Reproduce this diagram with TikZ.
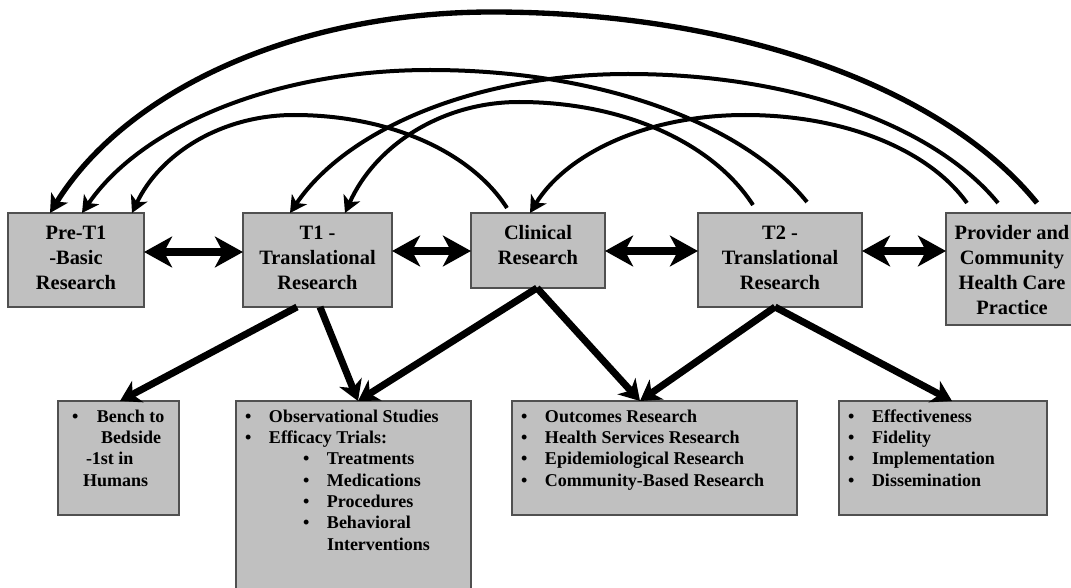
\documentclass[tikz,border=0pt]{standalone}
\usepackage{fontspec}
\setmainfont{Liberation Serif}
\usetikzlibrary{arrows.meta,calc}
\definecolor{boxfill}{HTML}{C0C0C0}
\definecolor{boxline}{HTML}{505050}
\newcommand\topbox[3]{\parbox[c][#2][t]{#1}{\centering\fontsize{15.3}{18.75}\selectfont\bfseries\rule{0pt}{19.5pt}#3}}
\newcommand\botbox[3]{\parbox[c][#2][t]{#1}{\raggedright\fontsize{13.5}{16}\selectfont\bfseries\rule{0pt}{15.75pt}#3}}
\newcommand\bul[1]{\hspace*{6.75pt}\makebox[18pt][l]{\textbullet}#1}
\newcommand\subbul[1]{\hspace*{50.25pt}\makebox[18pt][l]{\textbullet}#1}
\begin{document}
\begin{tikzpicture}[x=0.75pt,y=-0.75pt,
  box/.style={draw=boxline,fill=boxfill,line width=1pt,inner sep=0pt,outer sep=0pt,anchor=north west},
  dblarrow/.style={line width=6pt,{Stealth[length=21pt,width=23pt,inset=6pt]}-{Stealth[length=21pt,width=23pt,inset=6pt]}},
  downarrow/.style={line width=5.25pt,-{Stealth[length=15pt,width=18pt,inset=4.5pt]}},
  arcarrow/.style={line width=3pt,-{Stealth[length=12.5pt,width=13.5pt,inset=3.5pt]}},
  arcthick/.style={line width=4pt,-{Stealth[length=13.5pt,width=14.5pt,inset=3.5pt]}}]
\useasboundingbox (0,0) rectangle (1071,588);
\clip (0,0) rectangle (1071,588);

% top row
\node[box] (pre) at (8,213) {\topbox{102pt}{70.5pt}{Pre-T1\\-Basic\\Research}};
\node[box] (t1) at (243,213) {\topbox{111.75pt}{70.5pt}{T1 -\\Translational\\Research}};
\node[box] (clin) at (471,213) {\topbox{100.5pt}{56.25pt}{Clinical\\Research}};
\node[box] (t2) at (698,213) {\topbox{123pt}{70.5pt}{T2 -\\Translational\\Research}};
\node[box] (prov) at (946,213) {\topbox{99pt}{84pt}{Provider and\\Community\\Health Care\\Practice}};

% bottom row
\node[box] (bench) at (58,401) {\botbox{90.75pt}{85.5pt}{\hspace*{10.5pt}\makebox[18.75pt][l]{\textbullet}Bench to\\\hspace*{32.25pt}Bedside\\\hspace*{21pt}-1st in\\\hspace*{18.75pt}Humans}};
\node[box] (obs) at (236,401) {\botbox{176.25pt}{149.25pt}{\bul{Observational Studies}\\\bul{Efficacy Trials:}\\\subbul{Treatments}\\\subbul{Medications}\\\subbul{Procedures}\\\subbul{Behavioral}\\\hspace*{68.25pt}Interventions}};
\node[box] (out) at (512,401) {\botbox{213.75pt}{85.5pt}{\bul{Outcomes Research}\\\bul{Health Services Research}\\\bul{Epidemiological Research}\\\bul{Community-Based Research}}};
\node[box] (eff) at (839,401) {\botbox{156pt}{85.5pt}{\bul{Effectiveness}\\\bul{Fidelity}\\\bul{Implementation}\\\bul{Dissemination}}};

% horizontal double arrows
\draw[dblarrow] ($(pre.north east)+(0,39)$) -- ($(t1.north west)+(0,39)$);
\draw[dblarrow] ($(t1.north east)+(0,38)$) -- ($(clin.north west)+(0,38)$);
\draw[dblarrow] ($(clin.north east)+(0,38)$) -- ($(t2.north west)+(0,38)$);
\draw[dblarrow] ($(t2.north east)+(0,38)$) -- ($(prov.north west)+(0,38)$);

% downward arrows
\draw[downarrow] ($(t1.south west)+(54,0)$) -- ($(bench.north west)+(62,0)$);
\draw[downarrow] ($(t1.south west)+(77,0)$) -- ($(obs.north west)+(122,0)$);
\draw[downarrow] ($(clin.south west)+(66,0)$) -- ($(obs.north west)+(122,0)$);
\draw[downarrow] ($(clin.south west)+(66,0)$) -- ($(out.north west)+(128,0)$);
\draw[downarrow] ($(t2.south west)+(77,0)$) -- ($(out.north west)+(128,0)$);
\draw[downarrow] ($(t2.south west)+(77,0)$) -- ($(eff.north west)+(113,0)$);

% feedback arcs
\draw[arcthick] ($(prov.north west)+(91,-10)$) .. controls (944,88) and (737,12) .. (492,12)
  .. controls (293,12) and (125,92) .. ($(pre.north west)+(42,0)$);
\draw[arcarrow] ($(t2.north west)+(109,-11)$) .. controls (743,123) and (600,70) .. (430,70)
  .. controls (273,70) and (141,127) .. ($(pre.north west)+(74,0)$);
\draw[arcarrow] ($(prov.north west)+(52,-10)$) .. controls (935,126) and (795,74) .. (628,74)
  .. controls (476,74) and (347,129) .. ($(t1.north west)+(47,0)$);
\draw[arcarrow] ($(t2.north west)+(55,-8)$) .. controls (713,143) and (624,102) .. (519,102)
  .. controls (441,102) and (375,146) .. ($(t1.north west)+(102,0)$);
\draw[arcarrow] ($(clin.north west)+(36,-5)$) .. controls (471,152) and (390,115) .. (294,115)
  .. controls (221,115) and (160,154) .. ($(pre.north west)+(124,0)$);
\draw[arcarrow] ($(prov.north west)+(21,-10)$) .. controls (929,150) and (845,115) .. (745,115)
  .. controls (648,115) and (567,153) .. ($(clin.north west)+(59,0)$);
\end{tikzpicture}
\end{document}
